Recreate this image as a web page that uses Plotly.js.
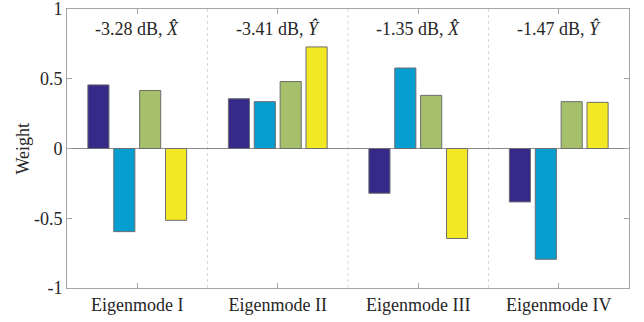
<!DOCTYPE html>
<html>
<head>
<meta charset="utf-8">
<script src="https://cdn.plot.ly/plotly-3.0.1.min.js"></script>
<style>html,body{margin:0;padding:0;background:#fff;}#chart{width:644px;height:322px;}</style>
</head>
<body>
<div id="chart"></div>
<script>
const categories = ["Eigenmode I", "Eigenmode II", "Eigenmode III", "Eigenmode IV"];
const series1 = [0.456, 0.357, -0.321, -0.383];
const series2 = [-0.596, 0.336, 0.577, -0.794];
const series3 = [0.416, 0.480, 0.381, 0.336];
const series4 = [-0.515, 0.728, -0.645, 0.331];
const groupLabels = ["-3.28 dB, <i>X\u0302</i>", "-3.41 dB, <i>Y\u0302</i>", "-1.35 dB, <i>X\u0302</i>", "-1.47 dB, <i>Y\u0302</i>"];
const yTicks = [-1, -0.5, 0, 0.5, 1];
const yTickText = ["-1", "-0.5", "0", "0.5", "1"];
const yTitle = "Weight";
const colors = ["#352a87", "#069dd0", "#a5bf6a", "#f2e824"];

const allSeries = [series1, series2, series3, series4];
const traces = allSeries.map((s, i) => ({
  type: "bar",
  x: categories,
  y: s,
  marker: {color: colors[i], line: {color: "#6e6e6e", width: 1}},
  showlegend: false,
  hoverinfo: "none"
}));

const font = {family: "'Liberation Serif', 'Times New Roman', serif", size: 18, color: "#262626"};

const shapes = [0.5, 1.5, 2.5].map(x => ({
  type: "line", xref: "x", yref: "paper", x0: x, x1: x, y0: 0, y1: 1,
  line: {color: "#d6d6d6", width: 1, dash: "dot"}, layer: "below"
}));

const annotations = categories.map((c, i) => ({
  x: c, y: 0.86, xref: "x", yref: "y", text: groupLabels[i], showarrow: false,
  font: font, yanchor: "middle", xanchor: "center"
}));
annotations.push({
  x: (22 - 67) / (644 - 67 - 15), y: 0.5, xref: "paper", yref: "paper", text: yTitle, showarrow: false,
  textangle: -90, font: font, xanchor: "center", yanchor: "middle"
});

const layout = {
  width: 644, height: 322,
  margin: {l: 67, r: 15, t: 9, b: 34},
  paper_bgcolor: "#fff", plot_bgcolor: "#fff",
  font: font,
  barmode: "group",
  bargap: 0.263,
  bargroupgap: 0.185,
  xaxis: {
    type: "category", range: [-0.5, 3.5],
    showline: true, linecolor: "#a6a6a6", linewidth: 1, mirror: "ticks",
    ticks: "inside", ticklen: 5, tickcolor: "#a6a6a6",
    showgrid: false, zeroline: false, tickfont: font, automargin: false
  },
  yaxis: {
    range: [-1, 1], tickvals: yTicks, ticktext: yTickText,
    showline: true, linecolor: "#a6a6a6", linewidth: 1, mirror: "ticks",
    ticks: "inside", ticklen: 5, tickcolor: "#a6a6a6",
    showgrid: false, zeroline: true, zerolinecolor: "#8c8c8c", zerolinewidth: 1,
    tickfont: font, ticklabeloverflow: "allow", automargin: false
  },
  shapes: shapes,
  annotations: annotations
};

Plotly.newPlot("chart", traces, layout, {displayModeBar: false, staticPlot: true});
</script>
</body>
</html>
